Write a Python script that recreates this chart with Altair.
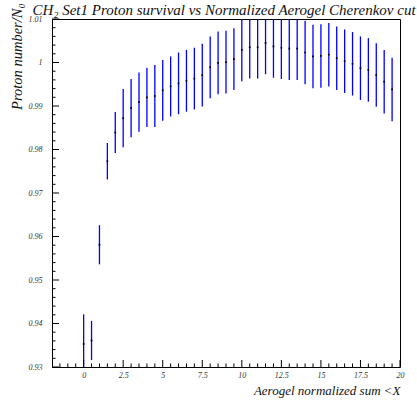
import altair as alt
import pandas as pd

# ---- data ----
x_vals = [0, 0.5, 1, 1.5, 2, 2.5, 3, 3.5, 4, 4.5, 5, 5.5, 6, 6.5, 7, 7.5, 8, 8.5, 9, 9.5,
          10, 10.5, 11, 11.5, 12, 12.5, 13, 13.5, 14, 14.5, 15, 15.5, 16, 16.5, 17, 17.5,
          18, 18.5, 19, 19.5]
y_vals = [0.9353, 0.9361, 0.9581, 0.9773, 0.9839, 0.9872, 0.9895, 0.9909, 0.9920, 0.9923,
          0.9936, 0.9945, 0.9952, 0.9958, 0.9963, 0.9971, 0.9989, 0.9999, 1.0001, 1.0008,
          1.0029, 1.0035, 1.0035, 1.0045, 1.0037, 1.0034, 1.0032, 1.0032, 1.0023, 1.0014,
          1.0015, 1.0018, 1.0010, 1.0003, 0.9997, 0.9987, 0.9983, 0.9971, 0.9956, 0.9938]
y_errs = [0.0068, 0.0045, 0.0045, 0.0042, 0.0047, 0.0067, 0.0067, 0.0068, 0.0068, 0.0071,
          0.0070, 0.0069, 0.0071, 0.0071, 0.0071, 0.0072, 0.0071, 0.0072, 0.0072, 0.0071,
          0.0072, 0.0072, 0.0072, 0.0072, 0.0072, 0.0072, 0.0072, 0.0072, 0.0073, 0.0073,
          0.0073, 0.0073, 0.0073, 0.0073, 0.0073, 0.0073, 0.0073, 0.0073, 0.0073, 0.0073]

x_major = [0, 2.5, 5, 7.5, 10, 12.5, 15, 17.5, 20]
x_minor = [-1.5, -1, -0.5, 0.5, 1, 1.5, 2, 3, 3.5, 4, 4.5, 5.5, 6, 6.5, 7, 8, 8.5, 9, 9.5,
           10.5, 11, 11.5, 12, 13, 13.5, 14, 14.5, 15.5, 16, 16.5, 17, 18, 18.5, 19, 19.5]
y_major = [0.93, 0.94, 0.95, 0.96, 0.97, 0.98, 0.99, 1.00, 1.01]
y_minor = [0.932, 0.934, 0.936, 0.938, 0.942, 0.944, 0.946, 0.948, 0.952, 0.954, 0.956, 0.958,
           0.962, 0.964, 0.966, 0.968, 0.972, 0.974, 0.976, 0.978, 0.982, 0.984, 0.986, 0.988,
           0.992, 0.994, 0.996, 0.998, 1.002, 1.004, 1.006, 1.008]

title_text = "CH\u2082 Set1 Proton survival vs Normalized Aerogel Cherenkov cut"
x_title = "Aerogel normalized sum <X"
y_title = "Proton number/N\u2080"

df = pd.DataFrame({"x": x_vals, "y": y_vals, "e": y_errs})
df["lo"] = df["y"] - df["e"]
df["hi"] = df["y"] + df["e"]

W, H = 348, 348
FONT = "Liberation Serif"
LBL = "datum.value + ''"

xs = alt.Scale(domain=[-2, 20], nice=False, zero=False)
ys = alt.Scale(domain=[0.93, 1.01], nice=False, zero=False)

x_axis = alt.Axis(values=x_major, labelExpr=LBL, ticks=False, domain=False, grid=False,
                  labelFont=FONT, labelFontStyle="italic", labelFontSize=8, labelColor="#333",
                  labelPadding=4, title=x_title, titleFont=FONT, titleFontStyle="italic",
                  titleFontWeight="normal", titleFontSize=13, titleColor="#111",
                  titleAnchor="end", titleAlign="right", titleX=W, titleY=23,
                  titleBaseline="middle", labelFlush=False)
y_axis = alt.Axis(values=y_major, labelExpr=LBL, ticks=False, domain=False, grid=False,
                  labelFont=FONT, labelFontStyle="italic", labelFontSize=8, labelColor="#333",
                  labelPadding=10, title=y_title, titleFont=FONT, titleFontStyle="italic",
                  titleFontWeight="normal", titleFontSize=14.5, titleColor="#111",
                  titleAngle=-90, titleAlign="right", titleBaseline="middle",
                  titleX=-35, titleY=-16, labelFlush=False)

bars = alt.Chart(df).mark_rule(color="#0000ff", strokeWidth=1.3, clip=True).encode(
    x=alt.X("x:Q", scale=xs, axis=x_axis),
    y=alt.Y("lo:Q", scale=ys, axis=y_axis),
    y2="hi:Q",
)
pts = alt.Chart(df).mark_square(color="black", size=3, opacity=1, clip=True).encode(
    x=alt.X("x:Q", scale=xs, axis=x_axis),
    y=alt.Y("y:Q", scale=ys, axis=y_axis),
)

xmaj = alt.Chart(pd.DataFrame({"v": x_major})).mark_rule(color="black", strokeWidth=1).encode(
    x=alt.X("v:Q", scale=xs, axis=x_axis), y=alt.value(H), y2=alt.value(H - 7))
xmin = alt.Chart(pd.DataFrame({"v": x_minor})).mark_rule(color="black", strokeWidth=1).encode(
    x=alt.X("v:Q", scale=xs, axis=x_axis), y=alt.value(H), y2=alt.value(H - 3.5))
ymaj = alt.Chart(pd.DataFrame({"v": y_major})).mark_rule(color="black", strokeWidth=1).encode(
    y=alt.Y("v:Q", scale=ys, axis=y_axis), x=alt.value(0), x2=alt.value(7))
ymin = alt.Chart(pd.DataFrame({"v": y_minor})).mark_rule(color="black", strokeWidth=1).encode(
    y=alt.Y("v:Q", scale=ys, axis=y_axis), x=alt.value(0), x2=alt.value(3.5))

chart = alt.layer(bars, pts, xmaj, xmin, ymaj, ymin).properties(
    width=W, height=H,
    title=alt.Title(title_text, font=FONT, fontStyle="italic", fontWeight="normal",
                    fontSize=15, color="#111", anchor="middle", baseline="alphabetic",
                    frame="group", offset=2, dy=29, dx=-2),
    autosize=alt.AutoSizeParams(type="none"),
    padding={"left": 52, "top": 19, "right": 17, "bottom": 37},
    background="white",
).configure_view(stroke="black", strokeWidth=1)

chart.save("out.html", embed_options={"renderer": "svg", "actions": False})
